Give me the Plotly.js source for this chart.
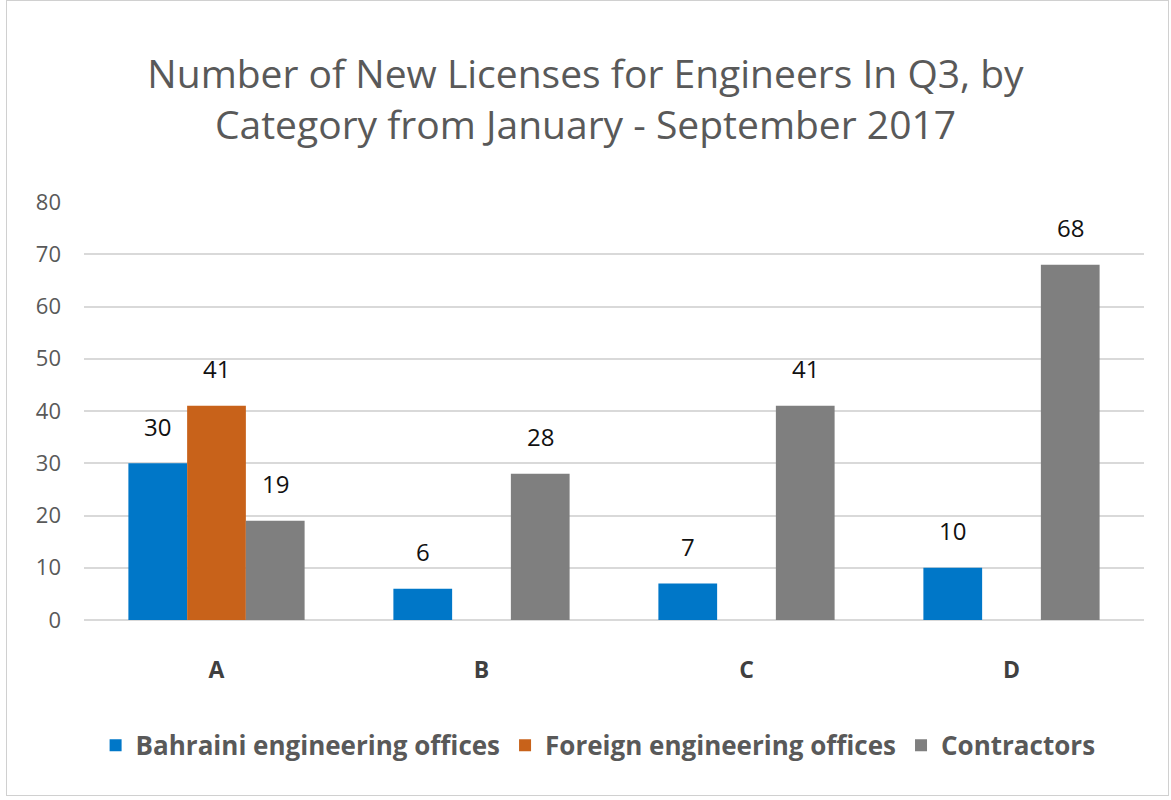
<!DOCTYPE html>
<html>
<head>
<meta charset="utf-8">
<script src="https://cdn.plot.ly/plotly-3.0.1.min.js"></script>
<style>
  html, body { margin: 0; padding: 0; background: #fff; }
  #frame { position: absolute; left: 6px; top: 0px; width: 1163px; height: 796px; border: 1px solid #d0d0d0; box-sizing: border-box; }
  #chart { position: absolute; left: 0; top: 0; width: 1171px; height: 800px; }
</style>
</head>
<body>
<div id="frame"></div>
<div id="chart"></div>
<script>
const categories = ['A', 'B', 'C', 'D'];
const seriesNames = ['Bahraini engineering offices', 'Foreign engineering offices', 'Contractors'];
const bahraini = [30, 6, 7, 10];
const foreign = [41, 0, 0, 0];
const contractors = [19, 28, 41, 68];
const colors = ['#0077C8', '#C8621A', '#7F7F7F'];

const allSeries = [bahraini, foreign, contractors];
const bargap = 0.335;
const plotLeft = 84, plotRight = 1144;
const slot = (plotRight - plotLeft) / categories.length;
const barW = slot * (1 - bargap) / allSeries.length;

const traces = allSeries.map((vals, i) => ({
  type: 'bar',
  name: seriesNames[i],
  x: categories,
  y: vals,
  marker: { color: colors[i], line: { width: 0 } },
  hoverinfo: 'x+y+name'
}));

const annotations = [];
allSeries.forEach((vals, i) => {
  vals.forEach((v, j) => {
    if (v === 0) return;
    annotations.push({
      x: categories[j], y: v, xref: 'x', yref: 'y',
      text: String(v), showarrow: false,
      xshift: (i - 1) * barW, yshift: 37,
      font: { family: 'Open Sans, sans-serif', size: 24, color: '#111111' }
    });
  });
});

const layout = {
  width: 1171, height: 800,
  paper_bgcolor: 'rgba(0,0,0,0)', plot_bgcolor: 'rgba(0,0,0,0)',
  margin: { l: plotLeft, r: 1171 - plotRight, t: 202, b: 180 },
  title: {
    text: 'Number of New Licenses for Engineers In Q3, by<br>Category from January - September 2017',
    x: 0.5, xanchor: 'center', y: 0.89, yanchor: 'middle',
    font: { family: 'Open Sans, sans-serif', size: 39, color: '#595959' }
  },
  barmode: 'group', bargap: bargap, bargroupgap: 0,
  xaxis: {
    type: 'category',
    tickfont: { family: 'Open Sans, sans-serif', size: 23, color: '#404040', weight: 'bold' },
    showgrid: false, showline: false, zeroline: false, ticks: '',
    ticklabelstandoff: 34
  },
  yaxis: {
    range: [0, 80], dtick: 10,
    tickfont: { family: 'Open Sans, sans-serif', size: 22, color: '#595959' },
    showgrid: true, gridcolor: '#d9d9d9', gridwidth: 2,
    zeroline: true, zerolinecolor: '#d9d9d9', zerolinewidth: 2,
    showline: false, ticks: '', ticklabelstandoff: 22
  },
  showlegend: true,
  legend: {
    orientation: 'h', x: 0.485, xanchor: 'center', y: -0.30, yanchor: 'middle',
    font: { family: 'Open Sans, sans-serif', size: 26, color: '#595959', weight: 'bold' },
    itemwidth: 30, tracegroupgap: 0
  },
  annotations: annotations
};

Plotly.newPlot('chart', traces, layout, { displayModeBar: false, staticPlot: true });
</script>
</body>
</html>
